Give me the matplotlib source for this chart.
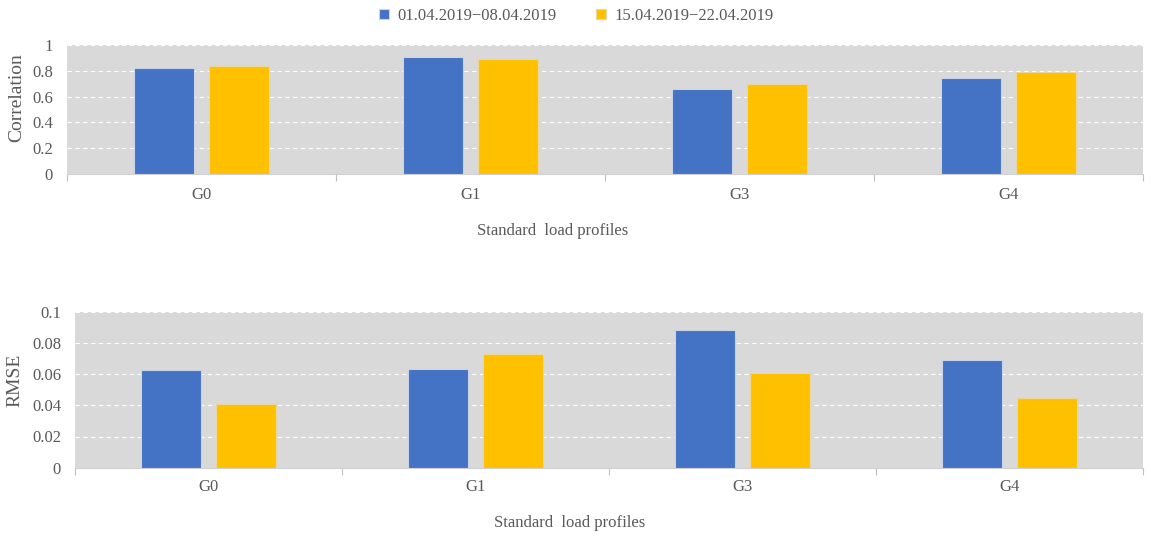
import matplotlib
matplotlib.use("Agg")
import matplotlib.pyplot as plt
import numpy as np
from matplotlib.ticker import FuncFormatter, FixedLocator

categories = ["G0", "G1", "G3", "G4"]
series_names = ["01.04.2019\u221208.04.2019", "15.04.2019\u221222.04.2019"]
corr_week1 = [0.82, 0.907, 0.656, 0.745]
corr_week2 = [0.838, 0.887, 0.697, 0.789]
rmse_week1 = [0.0626, 0.0633, 0.0881, 0.0692]
rmse_week2 = [0.0408, 0.0729, 0.0607, 0.0449]
corr_ticks = [0, 0.2, 0.4, 0.6, 0.8, 1]
rmse_ticks = [0, 0.02, 0.04, 0.06, 0.08, 0.1]

plt.rcParams['font.family'] = ['Liberation Serif', 'DejaVu Serif']
BLUE = "#4472C4"
YELLOW = "#FFC000"
BG = "#D9D9D9"
TXT = "#595959"

fig = plt.figure(figsize=(11.51, 5.43), dpi=100)
W, H = 1151, 543

def make_ax(l, r, t, b):
    return fig.add_axes([l / W, 1 - b / H, (r - l) / W, (b - t) / H])

ax1 = make_ax(67, 1143, 44.7, 174.3)
ax2 = make_ax(75, 1143, 311.7, 467.7)

x = np.arange(len(categories))
bw = 0.223
off = 0.141

def style(ax, v1, v2, ticks, ylabel, lx, ly, xpad):
    ax.set_facecolor(BG)
    b1 = ax.bar(x - off, v1, bw, color=BLUE, edgecolor="#C9D3E8", linewidth=0.8, zorder=3)
    b2 = ax.bar(x + off, v2, bw, color=YELLOW, edgecolor="#E8D7A0", linewidth=0.8, zorder=3)
    ax.set_xlim(-0.5, len(categories) - 0.5)
    ax.set_ylim(ticks[0], ticks[-1])
    ax.set_yticks(ticks)
    ax.yaxis.set_major_formatter(FuncFormatter(lambda v, p: "%g" % v))
    ax.set_xticks(x)
    ax.set_xticklabels(categories)
    ax.xaxis.set_minor_locator(FixedLocator(np.arange(-0.5, len(categories), 1.0)))
    ax.tick_params(axis='x', which='major', length=0, pad=xpad, labelsize=12, labelcolor=TXT)
    ax.tick_params(axis='x', which='minor', length=5, color="#BFBFBF", width=0.8)
    ax.tick_params(axis='y', length=0, pad=10, labelsize=12, labelcolor=TXT)
    ax.grid(axis='y', color='white', linestyle=(0, (4, 3)), linewidth=0.8, zorder=1)
    for s in ['top', 'right', 'left']:
        ax.spines[s].set_visible(False)
    ax.spines['bottom'].set_color("#D0D0D0")
    ax.spines['bottom'].set_linewidth(0.8)
    ax.set_ylabel(ylabel, fontsize=14, color=TXT)
    ax.yaxis.set_label_coords(lx, ly)
    return b1, b2

b1, b2 = style(ax1, corr_week1, corr_week2, corr_ticks, "Correlation", -0.039, 0.589, 9)
style(ax2, rmse_week1, rmse_week2, rmse_ticks, "RMSE", -0.048, 0.562, 8)

fig.text(553 / W, 1 - 231 / H, "Standard  load profiles", ha='center', va='center', fontsize=12, color=TXT)
fig.text(570 / W, 1 - 523 / H, "Standard  load profiles", ha='center', va='center', fontsize=12, color=TXT)

fig.legend([b1, b2], series_names, loc='center', bbox_to_anchor=(576 / W, 1 - 16 / H),
           ncol=2, frameon=False, fontsize=12, handlelength=0.6, handleheight=0.6,
           handletextpad=0.5, columnspacing=2.4, labelcolor=TXT)

fig.savefig("out.png", dpi=100)
